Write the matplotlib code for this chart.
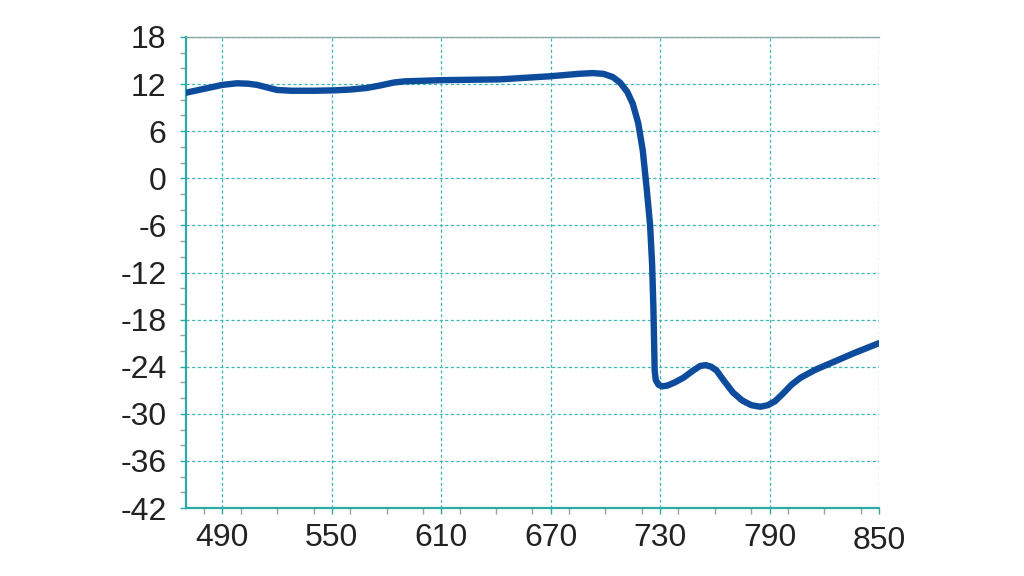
import matplotlib

matplotlib.use("Agg")
import matplotlib.pyplot as plt
from matplotlib.ticker import MultipleLocator

# wavelength (nm) and signal
wavelength = [470, 476, 483, 490, 498, 504, 509, 514, 520, 528, 540, 551, 560, 569,
              576, 584, 590, 597, 610, 642, 670, 685, 693, 699, 704, 708, 712, 715,
              718, 720.5, 722.7, 724.5, 725.6, 726.3, 726.7, 727, 727.6, 729.1, 731,
              734, 738, 742.8, 748, 752, 755, 758, 761, 765, 770, 775, 780, 785, 789,
              793, 797, 802, 807, 815, 825, 837, 850]
signal = [10.9, 11.2, 11.55, 11.9, 12.1, 12.05, 11.9, 11.6, 11.25, 11.15, 11.15, 11.2, 11.3, 11.5,
          11.8, 12.2, 12.35, 12.4, 12.5, 12.6, 13.0, 13.3, 13.4, 13.3, 12.9, 12.2, 11.0, 9.5,
          7.0, 3.5, -1.5, -6.0, -11.0, -16.5, -21.0, -24.5, -25.7, -26.3, -26.5,
          -26.4, -26.0, -25.4, -24.5, -23.9, -23.8, -24.0, -24.5, -25.8, -27.3, -28.3, -28.9, -29.1, -28.9,
          -28.4, -27.5, -26.3, -25.4, -24.4, -23.4, -22.2, -21.0]

x_ticks = [490, 550, 610, 670, 730, 790, 850]
y_ticks = [-42, -36, -30, -24, -18, -12, -6, 0, 6, 12, 18]

teal = "#2aaba6"
grid_c = "#3cb8b4"

plt.rcParams["font.family"] = ["Liberation Sans", "DejaVu Sans"]
plt.rcParams["axes.unicode_minus"] = False

fig = plt.figure(figsize=(10.24, 5.76), dpi=100)
ax = fig.add_axes([0.1816, 0.118, 0.6768, 0.8178])

ax.plot(wavelength, signal, color="#0d4c9c", lw=4.6,
        solid_joinstyle="round", solid_capstyle="round", zorder=3)

ax.set_xlim(470, 850)
ax.set_ylim(-42, 18)
ax.set_xticks(x_ticks)
ax.set_yticks(y_ticks)
ax.xaxis.set_minor_locator(MultipleLocator(20))
ax.yaxis.set_minor_locator(MultipleLocator(2))

ax.grid(True, which="major", color=grid_c, ls=(0, (2.5, 2)), lw=0.9)

for side in ["left", "bottom"]:
    ax.spines[side].set_color(teal)
    ax.spines[side].set_linewidth(1.6)
ax.spines["top"].set_color("#8aa6a6")
ax.spines["top"].set_linewidth(1.0)
ax.spines["right"].set_visible(False)

ax.tick_params(which="major", length=4, width=1, color=teal,
               labelsize=23, labelcolor="#222222")
ax.tick_params(which="minor", length=4, width=1, color="#8aa6a6")
ax.tick_params(axis="x", which="major", pad=7)
ax.tick_params(axis="y", which="major", pad=10)

# the last x label sits a little lower in the reference
ax.get_xticklabels()[-1].set_y(-0.006)

fig.savefig("out.png", dpi=100)
